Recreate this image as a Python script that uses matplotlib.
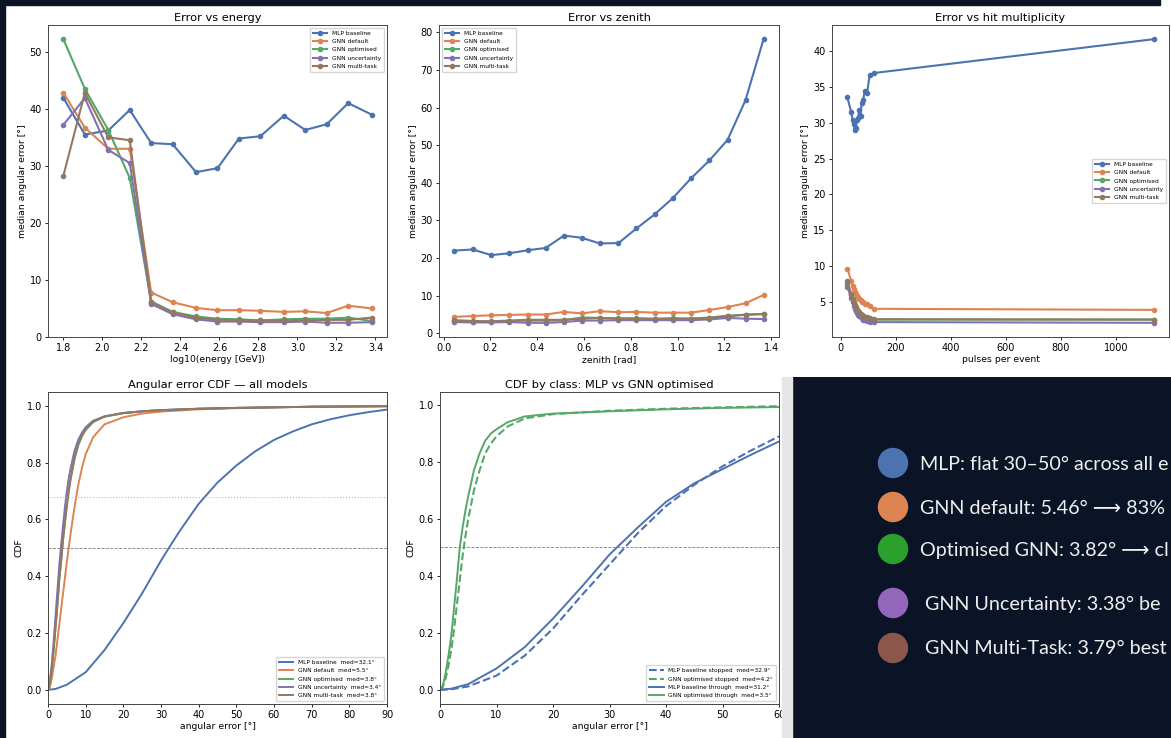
import matplotlib
matplotlib.use("Agg")
import matplotlib.pyplot as plt
from matplotlib.patches import Rectangle, Circle

# ---------------- data ----------------
models = ["MLP baseline", "GNN default", "GNN optimised", "GNN uncertainty", "GNN multi-task"]
model_colors = ["#4C72B0", "#DD8452", "#55A868", "#8172B3", "#937860"]

energy_x = [1.80, 1.91, 2.03, 2.14, 2.25, 2.36, 2.48, 2.59, 2.70, 2.81, 2.93, 3.04, 3.15, 3.26, 3.38]
energy_mlp = [41.9, 35.5, 36.2, 39.8, 34.0, 33.8, 28.9, 29.6, 34.8, 35.2, 38.8, 36.3, 37.3, 41.0, 39.0]
energy_default = [42.8, 36.7, 33.0, 33.0, 7.8, 6.1, 5.1, 4.7, 4.7, 4.6, 4.4, 4.5, 4.2, 5.5, 5.0]
energy_optimised = [52.2, 43.5, 36.3, 27.9, 6.2, 4.4, 3.6, 3.2, 3.1, 2.9, 3.1, 3.2, 3.2, 3.4, 2.8]
energy_uncertainty = [37.2, 41.9, 32.8, 30.5, 5.8, 4.0, 3.1, 2.7, 2.7, 2.6, 2.6, 2.7, 2.5, 2.5, 2.6]
energy_multitask = [28.3, 42.8, 35.0, 34.5, 6.2, 4.3, 3.4, 3.0, 3.0, 2.9, 2.9, 2.9, 3.0, 3.0, 3.4]

zenith_x = [0.046, 0.124, 0.203, 0.281, 0.360, 0.436, 0.514, 0.590, 0.667, 0.747,
            0.824, 0.901, 0.980, 1.057, 1.136, 1.213, 1.290, 1.367]
zenith_mlp = [22.0, 22.3, 20.8, 21.3, 22.1, 22.7, 26.0, 25.4, 23.9, 24.0,
              27.9, 31.6, 36.0, 41.2, 46.0, 51.4, 62.0, 78.2]
zenith_default = [4.4, 4.6, 4.8, 4.9, 5.0, 5.0, 5.7, 5.3, 5.9, 5.6,
                  5.7, 5.5, 5.5, 5.5, 6.2, 7.0, 8.0, 10.2]
zenith_optimised = [3.3, 3.1, 3.1, 3.3, 3.4, 3.4, 3.5, 4.2, 4.1, 4.0,
                    4.0, 3.9, 4.0, 3.9, 4.2, 4.7, 4.9, 5.2]
zenith_uncertainty = [3.0, 2.9, 2.9, 3.0, 2.8, 2.8, 3.0, 3.4, 3.4, 3.5,
                      3.5, 3.5, 3.5, 3.5, 3.7, 4.1, 3.9, 3.8]
zenith_multitask = [3.5, 3.3, 3.2, 3.4, 3.6, 3.6, 3.6, 3.9, 4.1, 3.9,
                    3.9, 3.8, 3.9, 3.9, 4.1, 4.5, 5.0, 5.1]

hits_x = [24, 38, 43, 47, 51, 55, 59, 63, 67, 72, 76, 82, 87, 96, 105, 122, 1138]
hits_mlp = [33.5, 31.5, 30.3, 29.8, 29.0, 29.3, 30.3, 30.6, 31.7, 30.9, 32.7, 33.2, 34.4, 34.1, 36.6, 36.9, 41.6]
hits_default = [9.7, 8.0, 7.3, 6.9, 6.5, 6.2, 5.9, 5.7, 5.5, 5.3, 5.1, 5.0, 4.8, 4.7, 4.5, 4.1, 3.95]
hits_optimised = [7.5, 6.0, 5.4, 4.9, 4.5, 4.2, 3.9, 3.7, 3.5, 3.3, 3.2, 3.0, 2.9, 2.8, 2.7, 2.6, 2.6]
hits_uncertainty = [7.2, 5.6, 5.0, 4.5, 4.1, 3.8, 3.5, 3.3, 3.1, 2.9, 2.8, 2.6, 2.5, 2.4, 2.3, 2.25, 2.15]
hits_multitask = [7.9, 6.2, 5.5, 5.0, 4.6, 4.3, 4.0, 3.8, 3.6, 3.4, 3.3, 3.1, 3.0, 2.9, 2.8, 2.65, 2.6]

# CDF (all models)
cdf_mlp_x = [0, 2, 5, 10, 15, 20, 25, 30, 32.1, 35, 40, 45, 50, 55, 60, 65, 70, 75, 80, 85, 90]
cdf_mlp_y = [0, 0.003, 0.018, 0.062, 0.14, 0.235, 0.34, 0.455, 0.5, 0.56, 0.655, 0.73, 0.79,
             0.84, 0.88, 0.91, 0.935, 0.953, 0.967, 0.978, 0.987]
cdf_gnn_x = [0, 0.5, 1, 1.5, 2, 2.5, 3, 3.5, 4, 4.5, 5, 5.5, 6, 7, 8, 9, 10, 12, 15, 20, 25, 30, 40, 50, 60, 70, 80, 90]
cdf_default_y = [0, 0.01, 0.04, 0.08, 0.12, 0.175, 0.23, 0.285, 0.34, 0.395, 0.45, 0.5, 0.55, 0.64, 0.72,
                 0.78, 0.83, 0.89, 0.935, 0.96, 0.973, 0.98, 0.988, 0.992, 0.995, 0.997, 0.998, 0.999]
cdf_optimised_y = [0, 0.025, 0.075, 0.14, 0.22, 0.30, 0.39, 0.455, 0.53, 0.59, 0.65, 0.70, 0.74, 0.81, 0.86,
                   0.893, 0.915, 0.943, 0.962, 0.974, 0.981, 0.985, 0.99, 0.993, 0.995, 0.997, 0.998, 0.999]
cdf_uncertainty_y = [0, 0.03, 0.09, 0.17, 0.26, 0.35, 0.44, 0.51, 0.58, 0.645, 0.70, 0.745, 0.78, 0.84, 0.88,
                     0.905, 0.925, 0.948, 0.963, 0.975, 0.981, 0.985, 0.99, 0.993, 0.995, 0.997, 0.998, 0.999]
cdf_multitask_y = [0, 0.025, 0.075, 0.14, 0.22, 0.30, 0.39, 0.455, 0.53, 0.59, 0.65, 0.70, 0.745, 0.815, 0.865,
                   0.896, 0.918, 0.945, 0.963, 0.975, 0.981, 0.985, 0.99, 0.993, 0.995, 0.997, 0.998, 0.999]
cdf_all_labels = ["MLP baseline  med=32.1°", "GNN default  med=5.5°", "GNN optimised  med=3.8°",
                  "GNN uncertainty  med=3.4°", "GNN multi-task  med=3.8°"]

# CDF by class
cls_mlp_x = [0, 2, 5, 10, 15, 20, 25, 30, 35, 40, 45, 50, 55, 60]
cls_mlp_stopped = [0, 0.002, 0.012, 0.05, 0.12, 0.215, 0.33, 0.44, 0.55, 0.645, 0.72, 0.785, 0.84, 0.89]
cls_mlp_through = [0, 0.004, 0.02, 0.075, 0.15, 0.25, 0.36, 0.475, 0.57, 0.66, 0.725, 0.775, 0.825, 0.872]
cls_gnn_x = [0, 0.5, 1, 1.5, 2, 2.5, 3, 3.5, 4, 4.5, 5, 6, 7, 8, 9, 10, 12, 15, 20, 30, 40, 50, 60]
cls_gnn_stopped = [0, 0.01, 0.04, 0.085, 0.14, 0.215, 0.30, 0.385, 0.47, 0.54, 0.60, 0.70, 0.77, 0.83,
                   0.865, 0.89, 0.925, 0.953, 0.968, 0.98, 0.987, 0.992, 0.996]
cls_gnn_through = [0, 0.015, 0.06, 0.12, 0.19, 0.29, 0.39, 0.5, 0.57, 0.63, 0.68, 0.77, 0.83, 0.875,
                   0.9, 0.915, 0.94, 0.96, 0.97, 0.978, 0.985, 0.99, 0.993]
cls_labels = ["MLP baseline stopped  med=32.9°", "GNN optimised stopped  med=4.2°",
              "MLP baseline through  med=31.2°", "GNN optimised through  med=3.5°"]

summary_texts = ["MLP: flat 30–50° across all e",
                 "GNN default: 5.46° ⟶ 83%",
                 "Optimised GNN: 3.82° ⟶ cl",
                 " GNN Uncertainty: 3.38° be",
                 " GNN Multi-Task: 3.79° best"]
summary_colors = ["#4C72B0", "#DD8452", "#2CA02C", "#9467BD", "#8C564B"]

# ---------------- figure ----------------
W, H = 1171, 738
fig = plt.figure(figsize=(W / 100, H / 100), dpi=100, facecolor="white")

def box(l, r, t, b):
    return [l / W, (H - b) / H, (r - l) / W, (b - t) / H]

TITLE_FS = 8.2
TICK_FS = 7
LABEL_FS = 6.7
LEG_FS = 4.2

def style(ax, title, xlabel, ylabel):
    ax.set_title(title, fontsize=TITLE_FS, pad=3)
    ax.set_xlabel(xlabel, fontsize=LABEL_FS, labelpad=1.5)
    ax.set_ylabel(ylabel, fontsize=LABEL_FS, labelpad=2)
    ax.tick_params(labelsize=TICK_FS, length=2.5, width=0.6, pad=2)
    for s in ax.spines.values():
        s.set_linewidth(0.7)
        s.set_color("#444444")

def legend(ax, loc):
    ax.legend(fontsize=LEG_FS, loc=loc, handlelength=2.5, labelspacing=0.55, borderpad=0.5)

line_kw = dict(lw=1.5, marker="o", ms=3)

ax1 = fig.add_axes(box(48, 387, 25, 337))
for lab, col, ys in zip(models, model_colors,
                        [energy_mlp, energy_default, energy_optimised, energy_uncertainty, energy_multitask]):
    ax1.plot(energy_x, ys, color=col, label=lab, **line_kw)
ax1.set_ylim(0, 54.7)
style(ax1, "Error vs energy", "log10(energy [GeV])", "median angular error [°]")
legend(ax1, "upper right")

ax2 = fig.add_axes(box(439, 779, 25, 337))
for lab, col, ys in zip(models, model_colors,
                        [zenith_mlp, zenith_default, zenith_optimised, zenith_uncertainty, zenith_multitask]):
    ax2.plot(zenith_x, ys, color=col, label=lab, **line_kw)
style(ax2, "Error vs zenith", "zenith [rad]", "median angular error [°]")
legend(ax2, "upper left")

ax3 = fig.add_axes(box(832, 1169, 25, 337))
for lab, col, ys in zip(models, model_colors,
                        [hits_mlp, hits_default, hits_optimised, hits_uncertainty, hits_multitask]):
    ax3.plot(hits_x, ys, color=col, label=lab, **line_kw)
style(ax3, "Error vs hit multiplicity", "pulses per event", "median angular error [°]")
legend(ax3, "center right")

ax4 = fig.add_axes(box(48, 387, 392, 704))
ax4.plot(cdf_mlp_x, cdf_mlp_y, color=model_colors[0], lw=1.4, label=cdf_all_labels[0])
for lab, col, ys in zip(cdf_all_labels[1:], model_colors[1:],
                        [cdf_default_y, cdf_optimised_y, cdf_uncertainty_y, cdf_multitask_y]):
    ax4.plot(cdf_gnn_x, ys, color=col, lw=1.4, label=lab)
ax4.axhline(0.5, color="gray", ls="--", lw=0.6)
ax4.axhline(0.68, color="#bbbbbb", ls=":", lw=0.8)
ax4.set_xlim(0, 90)
style(ax4, "Angular error CDF — all models", "angular error [°]", "CDF")
legend(ax4, "lower right")

ax5 = fig.add_axes(box(440, 779, 392, 704))
ax5.plot(cls_mlp_x, cls_mlp_stopped, color=model_colors[0], lw=1.5, ls="--", label=cls_labels[0])
ax5.plot(cls_gnn_x, cls_gnn_stopped, color=model_colors[2], lw=1.5, ls="--", label=cls_labels[1])
ax5.plot(cls_mlp_x, cls_mlp_through, color=model_colors[0], lw=1.4, label=cls_labels[2])
ax5.plot(cls_gnn_x, cls_gnn_through, color=model_colors[2], lw=1.4, label=cls_labels[3])
ax5.axhline(0.5, color="gray", ls="--", lw=0.6)
ax5.set_xlim(0, 60)
style(ax5, "CDF by class: MLP vs GNN optimised", "angular error [°]", "CDF")
legend(ax5, "lower right")

# slide frame elements
fig.patches.append(Rectangle((0, 0), 5 / W, 1, transform=fig.transFigure, color="#0b1426", zorder=5))
fig.patches.append(Rectangle((0, (H - 5) / H), 1160 / W, 5 / H, transform=fig.transFigure,
                             color="#0b1426", zorder=5))
fig.patches.append(Rectangle((782 / W, 0), 10 / W, (H - 377) / H, transform=fig.transFigure,
                             color="#e6e6e6", zorder=0))

# dark summary panel
axp = fig.add_axes(box(792, W, 377, H))
axp.set_facecolor("#0b1426")
axp.set_xlim(792, W)
axp.set_ylim(H, 377)
axp.set_xticks([])
axp.set_yticks([])
for s in axp.spines.values():
    s.set_visible(False)
row_y = [463, 507, 549, 603, 648]
for y, txt, col in zip(row_y, summary_texts, summary_colors):
    axp.add_patch(Circle((893, y), 14.5, color=col))
    axp.text(920, y + 1, txt, color="#eeeeee", fontsize=14.2, va="center", ha="left",
             family=["Lato", "DejaVu Sans"], clip_on=True)

fig.savefig("out.png", dpi=100, facecolor=fig.get_facecolor())
